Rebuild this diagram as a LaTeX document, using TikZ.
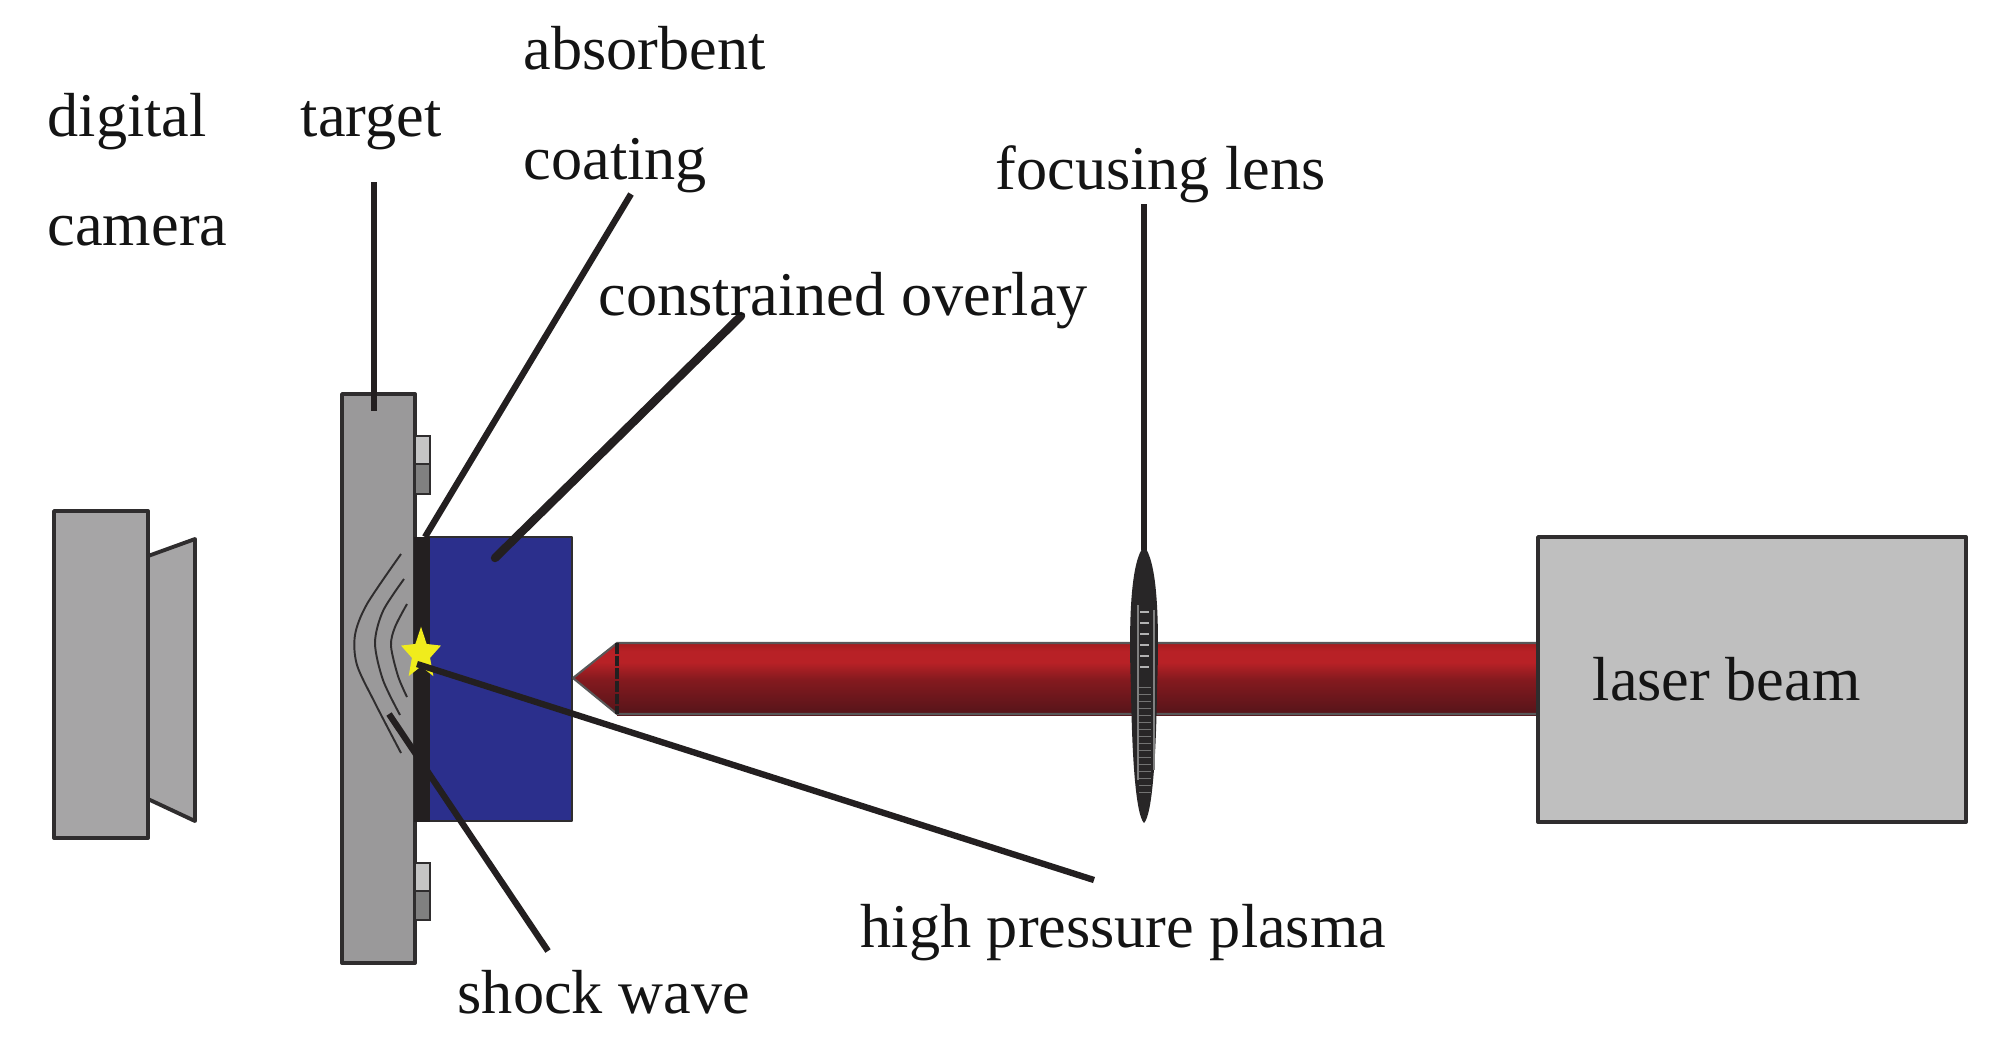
\documentclass[tikz,border=0pt]{standalone}
\usepackage{fontspec}
\setmainfont{Liberation Serif}
\usetikzlibrary{shapes.geometric}

\definecolor{bodygray}{HTML}{A6A5A6}
\definecolor{targetgray}{HTML}{9A999A}
\definecolor{boxgray}{HTML}{BFBFBF}
\definecolor{edgeblack}{HTML}{2F2D2E}
\definecolor{coatblack}{HTML}{231F20}
\definecolor{overlayblue}{HTML}{2B2F8C}
\definecolor{plasmayellow}{HTML}{F0EC1C}
\pgfdeclareverticalshading{beamshade}{100bp}{
  rgb(0bp)=(0.33,0.08,0.10);
  rgb(25bp)=(0.33,0.08,0.10);
  rgb(50bp)=(0.52,0.10,0.12);
  rgb(62bp)=(0.72,0.13,0.15);
  rgb(70bp)=(0.72,0.13,0.15);
  rgb(75bp)=(0.65,0.11,0.12);
  rgb(100bp)=(0.65,0.11,0.12)}

\tikzset{
  part/.style={draw=edgeblack,line width=1.1pt,line join=round},
  leader/.style={draw=coatblack,line width=1.7pt},
  wave/.style={edgeblack,line width=0.55pt},
  caption/.style={anchor=base west,inner sep=0pt,font=\fontsize{17.7}{20}\selectfont,text=black!92},
}

\begin{document}
\begin{tikzpicture}[x=0.01cm,y=-0.01cm]
    \path[fill=white,use as bounding box] (0,0) rectangle (1998,1047);

    % Camera
    \draw[part,fill=bodygray] (148,556) -- (195,539) -- (195,821) -- (148,799) -- cycle;
    \draw[part,fill=bodygray] (54,511) rectangle (148,838);

    % Target
    \draw[part,fill=targetgray] (342,394) rectangle (415,963);
    \draw[edgeblack,line width=0.5pt,fill=boxgray!90!white] (415,436) rectangle (430,464);
    \draw[edgeblack,line width=0.5pt,fill=black!50] (415,464) rectangle (430,494);
    \draw[edgeblack,line width=0.5pt,fill=boxgray!90!white] (415,863) rectangle (430,891);
    \draw[edgeblack,line width=0.5pt,fill=black!50] (415,891) rectangle (430,920);

    % Shock waves
    \draw[wave] plot[smooth,tension=0.5] coordinates {(401,554) (367,604) (355,635) (357,665) (375,703) (401,753)};
    \draw[wave] plot[smooth,tension=0.5] coordinates {(404,579) (383,611) (375,643) (383,680) (400,715)};
    \draw[wave] plot[smooth,tension=0.5] coordinates {(407,604) (395,627) (391,646) (398,676) (407,697)};

    % Overlay and coating
    \draw[part,line width=0.8pt,fill=overlayblue] (429,537) rectangle (572,821);
    \fill[coatblack] (414,537) rectangle (430,822);

    % Laser beam
    \shade[shading=beamshade] (573,678) -- (617,644) -- (617,714) -- cycle;
    \shade[shading=beamshade] (617,644) rectangle (1538,715);
    \draw[edgeblack!80,line width=0.6pt] (573,678) -- (617,643) -- (1538,643);
    \draw[edgeblack!80,line width=0.6pt] (573,678) -- (617,714) -- (1538,714);
    \draw[coatblack,line width=0.9pt,dash pattern=on 3pt off 0.6pt] (617,643) -- (617,714);

    % Laser box
    \draw[part,fill=boxgray] (1538,537) rectangle (1966,822);

    % Focusing lens
    \fill[edgeblack!85!black] (1144,546) .. controls (1132,560) and (1128,610) .. (1131,690)
      .. controls (1132,760) and (1136,815) .. (1144,823)
      .. controls (1152,815) and (1156,760) .. (1157,690)
      .. controls (1160,610) and (1156,560) .. (1144,546) -- cycle;
    \draw[black!50,line width=0.5pt] (1138,605) -- (1138,780);
    \draw[black!50,line width=0.5pt] (1154,610) -- (1154,770);
    \foreach \i in {0,...,5}
    {
        \draw[white!70!black,line width=0.5pt] (1140,612 + \i * 11) -- (1149,612 + \i * 11);
    }
    \foreach \i in {1,...,16}
    {
        \draw[black!55,line width=0.3pt] (1139,680 + \i * 7) -- (1151,680 + \i * 7);
    }

    % Plasma
    \node[star,star points=5,star point ratio=2.2,fill=plasmayellow,inner sep=0pt,
      minimum size=0.42cm,yscale=1.3,transform shape] (plasma) at (421,654) {};

    % Leader ends
    \coordinate (targetfoot) at (374,411);
    \coordinate (targethead) at (374,182);
    \coordinate (coatfoot) at (425,537);
    \coordinate (coathead) at (631,194);
    \coordinate (overlayfoot) at (495,558);
    \coordinate (overlayhead) at (741,316);
    \coordinate (lensfoot) at (1144,550);
    \coordinate (lenshead) at (1144,204);
    \coordinate (plasmafoot) at (417,664);
    \coordinate (plasmahead) at (1094,880);
    \coordinate (shockfoot) at (389,714);
    \coordinate (shockhead) at (548,951);

    % Leaders
    \draw[leader] (targethead) -- (targetfoot);
    \draw[leader,line width=1.8pt] (coathead) -- (coatfoot);
    \draw[leader,line width=2.4pt,line cap=round] (overlayhead) -- (overlayfoot);
    \draw[leader] (lenshead) -- (lensfoot);
    \draw[leader,line width=1.8pt] (plasmafoot) -- (plasmahead);
    \draw[leader,line width=1.8pt] (shockfoot) -- (shockhead);

    % Labels
    \node[caption] (digitallabel) at (47,136) {digital};
    \node[caption] (cameralabel) at (47,245) {camera};
    \node[caption] (targetlabel) at (300,136) {target};
    \node[caption] (absorbentlabel) at (523,69) {absorbent};
    \node[caption] (coatinglabel) at (523,179) {coating};
    \node[caption] (overlaylabel) at (598,315) {constrained overlay};
    \node[caption] (lenslabel) at (995,189) {focusing lens};
    \node[caption] (laserlabel) at (1592,700) {laser beam};
    \node[caption] (plasmalabel) at (860,947) {high pressure plasma};
    \node[caption] (shocklabel) at (457,1013) {shock wave};
\end{tikzpicture}
\end{document}
